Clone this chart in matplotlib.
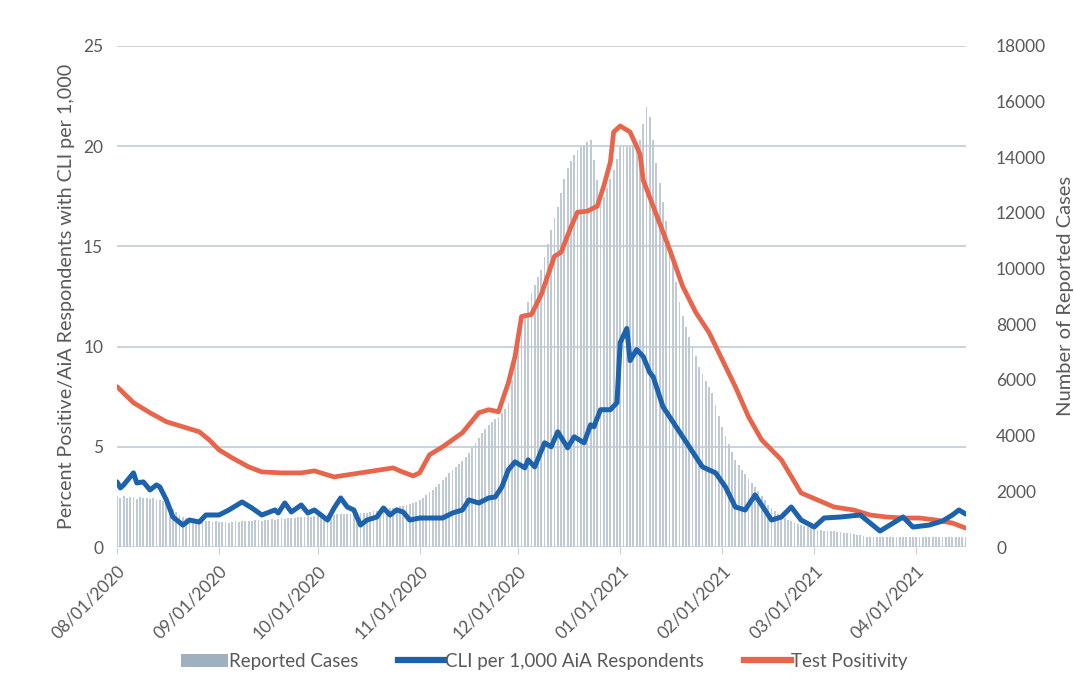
import numpy as np
import pandas as pd
import matplotlib
matplotlib.use("Agg")
import matplotlib.pyplot as plt
from matplotlib.patches import Patch
from matplotlib.lines import Line2D

plt.rcParams['font.family'] = ['Lato', 'DejaVu Sans']

start_date = "2020-08-01"
tick_labels = ["08/01/2020", "09/01/2020", "10/01/2020", "11/01/2020", "12/01/2020",
               "01/01/2021", "02/01/2021", "03/01/2021", "04/01/2021"]
tick_dates = ["2020-08-01", "2020-09-01", "2020-10-01", "2020-11-01", "2020-12-01",
              "2021-01-01", "2021-02-01", "2021-03-01", "2021-04-01"]

# Daily reported cases (right axis)
cases = [
    1850, 1780, 1820, 1760, 1800, 1790, 1740,
    1800, 1750, 1780, 1720, 1760, 1700, 1680,
    1650, 1600, 1500, 1380, 1250, 1150, 1080,
    1050, 1000, 980, 960, 970, 940, 950,
    920, 900, 930, 910, 890, 900, 880,
    900, 920, 890, 930, 940, 950, 930,
    960, 970, 950, 980, 990, 1000, 980,
    1010, 1030, 1020, 1050, 1040, 1060, 1080,
    1070, 1090, 1100, 1080, 1110, 1120, 1130,
    1150, 1140, 1160, 1150, 1170, 1180, 1190,
    1200, 1190, 1210, 1230, 1220, 1240, 1220,
    1260, 1280, 1300, 1320, 1350, 1380, 1400,
    1420, 1440, 1460, 1490, 1520, 1550, 1580,
    1620, 1700, 1780, 1880, 1960, 2050, 2150,
    2280, 2400, 2530, 2660, 2760, 2870, 2980,
    3100, 3230, 3380, 3550, 3720, 3900, 4100,
    4250, 4380, 4500, 4600, 4670, 4800, 4950,
    5170, 6000, 6800, 7500, 8000, 8400, 8800,
    9130, 9400, 9700, 9950, 10400, 10900, 11390,
    11800, 12200, 12700, 13200, 13600, 13850, 14080,
    14250, 14370, 14450, 14550, 14600, 13900, 13190,
    12800, 12580, 12900, 13200, 13550, 13950, 14370,
    14400, 14350, 14370, 14450, 14550, 14620, 15200,
    15800, 15450, 14600, 13800, 13080, 12400, 11700,
    11000, 10200, 9500, 8800, 8300, 7900, 7550,
    7190, 6850, 6470, 6200, 5950, 5750, 5530,
    5100, 4700, 4310, 4000, 3700, 3400, 3130,
    2950, 2780, 2620, 2460, 2300, 2150, 2000,
    1850, 1700, 1500, 1400, 1300, 1200, 1120,
    1050, 970, 920, 880, 840, 800, 760,
    720, 690, 660, 610, 600, 590, 580,
    570, 560, 550, 540, 520, 510, 500,
    480, 450, 420, 390, 360, 360, 370,
    350, 360, 370, 360, 350, 360, 370,
    360, 350, 360, 370, 360, 350, 360,
    370, 360, 350, 360, 370, 360, 350,
    360, 370, 360, 350, 360, 370, 360,
]

# CLI per 1,000 AiA respondents (left axis): day offset from start, value
cli_days = [0, 1, 2, 5, 6, 8, 10, 12, 13, 15, 17, 20, 22, 25, 27, 31, 34, 38, 41, 44,
            48, 49, 51, 53, 56, 58, 60, 64, 66, 68, 70, 72, 74, 76, 79, 81, 83, 85, 87, 89,
            92, 96, 99, 102, 105, 107, 110, 113, 115, 117, 119, 121, 124, 125, 127, 130, 132, 134, 137, 139,
            142, 144, 145, 147, 150, 152, 153, 155, 156, 158, 160, 162, 163, 166, 170, 174, 178, 182, 185, 188,
            191, 194, 197, 199, 202, 205, 208, 212, 215, 220, 226, 229, 232, 236, 239, 242, 247, 251, 254, 256,
            258]
cli_vals = [3.25, 2.95, 3.1, 3.7, 3.2, 3.25, 2.85, 3.1, 3.0, 2.35, 1.5, 1.1, 1.35, 1.25, 1.6, 1.6, 1.85, 2.25, 1.95, 1.6,
            1.85, 1.7, 2.2, 1.75, 2.1, 1.7, 1.85, 1.35, 1.95, 2.45, 2.0, 1.85, 1.1, 1.35, 1.5, 1.95, 1.6, 1.85, 1.75, 1.35,
            1.45, 1.45, 1.45, 1.7, 1.85, 2.35, 2.2, 2.45, 2.5, 3.0, 3.85, 4.25, 3.95, 4.35, 4.0, 5.2, 5.0, 5.75, 4.95, 5.5,
            5.2, 6.1, 6.0, 6.85, 6.85, 7.2, 10.2, 10.9, 9.3, 9.85, 9.5, 8.7, 8.5, 7.0, 6.0, 5.0, 4.0, 3.7, 3.0, 2.0,
            1.85, 2.6, 1.85, 1.35, 1.5, 2.0, 1.35, 1.0, 1.45, 1.5, 1.6, 1.2, 0.8, 1.2, 1.5, 1.0, 1.1, 1.3, 1.6, 1.85,
            1.65]

# Test positivity (left axis): day offset from start, value
pos_days = [0, 5, 10, 15, 20, 25, 28, 31, 35, 40, 44, 50, 56, 60, 66, 70, 80, 84, 86, 90,
            92, 95, 99, 105, 110, 113, 116, 119, 121, 123, 126, 129, 133, 135, 138, 140, 143, 146, 148, 150,
            151, 153, 156, 159, 160, 163, 168, 172, 176, 180, 184, 188, 192, 196, 202, 208, 213, 218, 224, 229,
            234, 239, 244, 249, 254, 258]
pos_vals = [8.0, 7.2, 6.7, 6.25, 6.0, 5.75, 5.35, 4.85, 4.45, 4.0, 3.75, 3.7, 3.7, 3.8, 3.5, 3.6, 3.85, 3.95, 3.8, 3.55,
            3.7, 4.6, 5.0, 5.7, 6.7, 6.85, 6.75, 8.2, 9.5, 11.5, 11.6, 12.6, 14.5, 14.7, 15.95, 16.7, 16.75, 17.0, 18.0, 19.2,
            20.7, 21.0, 20.7, 19.6, 18.3, 17.0, 14.85, 13.0, 11.7, 10.7, 9.35, 8.0, 6.5, 5.35, 4.35, 2.7, 2.35, 2.0, 1.85, 1.6,
            1.5, 1.45, 1.45, 1.35, 1.2, 0.95]

t0 = pd.Timestamp(start_date)
case_dates = pd.date_range(t0, periods=len(cases), freq="D")
cli_dates = t0 + pd.to_timedelta(cli_days, unit="D")
pos_dates = t0 + pd.to_timedelta(pos_days, unit="D")

BAR_C = "#bfcad5"
BAR_LEG = "#9fb0bf"
BLUE = "#1c62ad"
RED = "#e8644b"
GRID = "#c9d3dd"
TXT = "#595959"

fig = plt.figure(figsize=(10.74, 6.83), dpi=100)
ax = fig.add_axes([0.109, 0.199, 0.790, 0.734])
ax2 = ax.twinx()

ax2.bar(case_dates, cases, width=0.55, color=BAR_C, linewidth=0, zorder=1)
ax2.set_ylim(0, 18000)
ax2.set_yticks(np.arange(0, 18001, 2000))

ax.set_zorder(ax2.get_zorder() + 1)
ax.patch.set_visible(False)

ax.plot(pos_dates, pos_vals, color=RED, lw=3.4, solid_joinstyle="round", solid_capstyle="round", zorder=4)
ax.plot(cli_dates, cli_vals, color=BLUE, lw=3.6, solid_joinstyle="round", solid_capstyle="round", zorder=5)

ax.set_ylim(0, 25)
ax.set_yticks([0, 5, 10, 15, 20, 25])
ax.set_xlim(t0, case_dates[-1])

for v in [5, 10, 15, 20, 25]:
    ax2.axhline(v * 18000 / 25, color=GRID, lw=1.4, zorder=0)
ax2.axhline(0, color="#d0d7de", lw=1.2, zorder=0)

ax.set_xticks(pd.to_datetime(tick_dates))
ax.set_xticklabels(tick_labels, rotation=45, ha="right", rotation_mode="anchor",
                   fontsize=12.5, color=TXT)
ax.tick_params(axis="x", length=5, color="#c8cfd6", pad=6)
ax.tick_params(axis="y", length=0, labelsize=12.5, labelcolor=TXT, pad=10)
ax2.tick_params(axis="y", length=0, labelsize=12.5, labelcolor=TXT, pad=22)

for a in (ax, ax2):
    for s in a.spines.values():
        s.set_visible(False)

ax.set_ylabel("Percent Positive/AiA Respondents with CLI per 1,000", fontsize=14.2,
              color=TXT, labelpad=6)
ax2.set_ylabel("Number of Reported Cases", fontsize=14.5, color=TXT, labelpad=8)

handles = [Patch(facecolor=BAR_LEG, edgecolor="none"),
           Line2D([0], [0], color=BLUE, lw=4.5),
           Line2D([0], [0], color=RED, lw=4.5)]
labels = ["Reported Cases", "CLI per 1,000 AiA Respondents", "Test Positivity"]
fig.legend(handles, labels, loc="center", bbox_to_anchor=(0.507, 0.032), ncol=3,
           frameon=False, fontsize=13.5, handlelength=2.5, handletextpad=0.05,
           columnspacing=2.1, labelcolor=TXT)

fig.savefig("out.png", dpi=100, facecolor="white")
